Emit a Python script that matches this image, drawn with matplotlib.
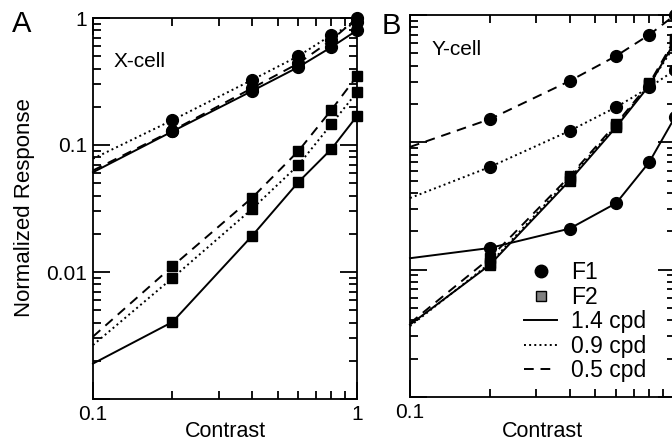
import matplotlib
matplotlib.use("Agg")
import matplotlib.pyplot as plt
from matplotlib.lines import Line2D
from matplotlib.ticker import FixedLocator, NullFormatter, LogLocator

plt.rcParams['font.family'] = ['Liberation Sans', 'DejaVu Sans']
plt.rcParams['font.size'] = 15

# contrast values (first one is only a line start, no marker)
contrast = [0.1, 0.2, 0.4, 0.6, 0.8, 1.0]

# X-cell, F1
x_f1_14 = [0.061, 0.128, 0.266, 0.411, 0.59, 0.80]
x_f1_09 = [0.078, 0.157, 0.325, 0.502, 0.735, 0.93]
x_f1_05 = [0.063, 0.13, 0.28, 0.44, 0.67, 1.0]
# X-cell, F2
x_f2_14 = [0.0019, 0.00404, 0.0192, 0.0511, 0.093, 0.169]
x_f2_09 = [0.00266, 0.00897, 0.0313, 0.0696, 0.146, 0.261]
x_f2_05 = [0.0031, 0.0111, 0.0383, 0.0897, 0.189, 0.349]

# Y-cell, F1
y_f1_14 = [0.0123, 0.0148, 0.021, 0.0333, 0.070, 0.158]
y_f1_09 = [0.0365, 0.064, 0.123, 0.189, 0.27, 0.37]
y_f1_05 = [0.092, 0.152, 0.303, 0.477, 0.70, 1.0]
# Y-cell, F2
y_f2_14 = [0.0037, 0.0109, 0.050, 0.132, 0.28, 0.62]
y_f2_09 = [0.0036, 0.0112, 0.052, 0.135, 0.285, 0.58]
y_f2_05 = [0.0038, 0.0123, 0.054, 0.14, 0.29, 0.65]

styles = {'1.4': '-', '0.9': ':', '0.5': (0, (5, 3.5))}

fig = plt.figure(figsize=(6.72, 4.43), dpi=100)
W, H = 672.0, 443.0
axA = fig.add_axes([93 / W, 1 - 399 / H, 264 / W, 381 / H])
axB = fig.add_axes([410 / W, 1 - 397 / H, 265 / W, 382 / H])


def draw(ax, f1, f2):
    for vals, key in zip(f1, ['1.4', '0.9', '0.5']):
        ax.plot(contrast, vals, color='black', lw=1.4, ls=styles[key],
                marker='o', ms=8.5, markevery=slice(1, None), clip_on=False)
    for vals, key in zip(f2, ['1.4', '0.9', '0.5']):
        ax.plot(contrast, vals, color='black', lw=1.4, ls=styles[key],
                marker='s', ms=7.5, markevery=slice(1, None), clip_on=False)


draw(axA, [x_f1_14, x_f1_09, x_f1_05], [x_f2_14, x_f2_09, x_f2_05])
draw(axB, [y_f1_14, y_f1_09, y_f1_05], [y_f2_14, y_f2_09, y_f2_05])

for ax in (axA, axB):
    ax.set_xscale('log')
    ax.set_yscale('log')
    ax.set_xlim(0.1, 1)
    ax.set_ylim(0.001, 1)
    for s in ax.spines.values():
        s.set_linewidth(1.3)
    ax.tick_params(which='both', direction='in', top=True, right=True, width=1.3)
    ax.tick_params(which='major', length=12, pad=4)
    ax.tick_params(which='minor', length=5.8)
    ax.xaxis.set_major_locator(FixedLocator([0.1, 1]))
    ax.xaxis.set_minor_locator(LogLocator(base=10, subs=range(2, 10)))
    ax.xaxis.set_minor_formatter(NullFormatter())
    ax.yaxis.set_major_locator(FixedLocator([0.001, 0.01, 0.1, 1]))
    ax.yaxis.set_minor_locator(LogLocator(base=10, subs=range(2, 10)))
    ax.yaxis.set_minor_formatter(NullFormatter())

axA.set_xticklabels(['0.1', '1'])
axB.set_xticklabels(['0.1', ''])
axA.set_yticklabels(['', '0.01', '0.1', '1'])
axB.set_yticklabels(['', '', '', ''])

axA.set_xlabel('Contrast', va='baseline', fontsize=15.5)
axA.xaxis.set_label_coords(0.5, -0.1010)
axB.set_xlabel('Contrast', va='baseline', fontsize=15.5)
axB.xaxis.set_label_coords(0.5, -0.1047)
axA.set_ylabel('Normalized Response', va='center', fontsize=16)
axA.yaxis.set_label_coords(-0.2576, 0.503)

axA.text(0.076, 0.871, 'X-cell', transform=axA.transAxes, fontsize=15)
axB.text(0.083, 0.895, 'Y-cell', transform=axB.transAxes, fontsize=15)

fig.text(12 / W, 1 - 32 / H, 'A', fontsize=21)
fig.text(382 / W, 1 - 34 / H, 'B', fontsize=21)

handles = [
    Line2D([], [], color='black', ls='none', marker='o', ms=9),
    Line2D([], [], color='black', mfc='gray', ls='none', marker='s', ms=7),
    Line2D([], [], color='black', lw=1.4, ls=styles['1.4']),
    Line2D([], [], color='black', lw=1.4, ls=styles['0.9']),
    Line2D([], [], color='black', lw=1.4, ls=styles['0.5']),
]
labels = ['F1', 'F2', '1.4 cpd', '0.9 cpd', '0.5 cpd']
axB.legend(handles, labels, loc='upper left', bbox_to_anchor=(524 / W, 1 - 261 / H),
           bbox_transform=fig.transFigure, frameon=False, borderpad=0,
           borderaxespad=0, handlelength=1.44, handletextpad=0.61,
           labelspacing=0.07, fontsize=16.5)

fig.savefig('out.png', dpi=100)
